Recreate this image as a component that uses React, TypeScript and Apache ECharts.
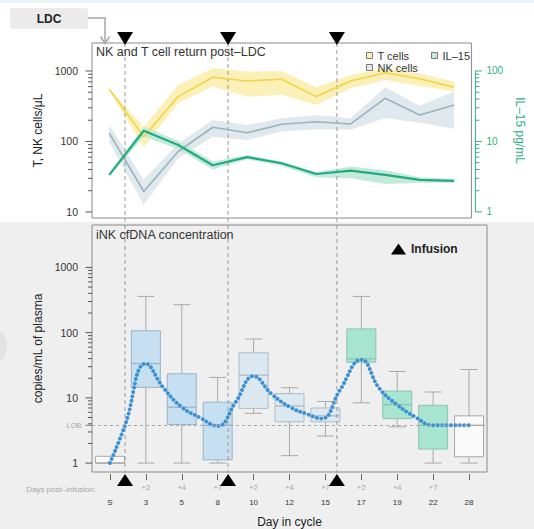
import React, { useEffect, useRef } from 'react';
import * as echarts from 'echarts';

// ---------------- data ----------------
const DAYS = ['S', '3', '5', '8', '10', '12', '15', '17', '19', '22', '28'];
const POST_INFUSION = ['', '+2', '+4', '+7', '+2', '+4', '+7', '+2', '+4', '+7', ''];

const T_CELLS = [550, 117, 433, 814, 721, 762, 433, 721, 946, 778, 587];
const T_CELLS_LO = [530, 82, 350, 600, 430, 460, 330, 570, 745, 610, 510];
const T_CELLS_HI = [570, 160, 630, 1090, 980, 1000, 590, 880, 1090, 930, 705];

const NK_CELLS = [131, 19.5, 72, 159, 133, 175, 190, 177, 410, 238, 330];
const NK_CELLS_LO = [97, 12.6, 58, 117, 105, 138, 149, 146, 215, 185, 152];
const NK_CELLS_HI = [172, 28.5, 94, 202, 171, 213, 238, 213, 590, 322, 510];

const IL15 = [3.35, 14.2, 8.9, 4.6, 6.0, 4.9, 3.45, 3.85, 3.35, 2.85, 2.76];
const IL15_LO = [3.2, 11.7, 7.8, 4.0, 5.6, 4.5, 3.1, 3.0, 2.5, 2.6, 2.6];
const IL15_HI = [3.5, 16.2, 10.2, 5.2, 6.4, 5.2, 3.7, 4.4, 3.9, 3.1, 2.9];

const BOX_MIN = [1.0, 1.0, 1.0, 1.0, 5.8, 1.3, 2.6, 8.4, 3.6, 1.0, 1.0];
const BOX_Q1 = [1.0, 14.5, 3.9, 1.12, 6.9, 4.3, 4.3, 35.2, 4.8, 1.64, 1.25];
const BOX_MED = [1.0, 33.6, 7.2, 3.8, 22.3, 7.5, 5.3, 39.7, 7.9, 3.8, 3.8];
const BOX_Q3 = [1.27, 107, 23.4, 8.6, 49, 11.6, 7.0, 114, 12.7, 7.7, 5.3];
const BOX_MAX = [1.27, 359, 268, 20.6, 80, 14.3, 8.8, 359, 25.4, 12.3, 27.2];

const CURVE_X = [0, 0.42, 1, 1.5, 2, 2.5, 3, 3.5, 4, 4.5, 5, 5.5, 5.9, 6.4, 7, 7.5, 8, 8.5, 9, 10];
const CURVE_Y = [1.0, 3.8, 33.6, 14, 7.2, 5.0, 3.7, 8.6, 21.5, 11.5, 7.3, 5.6, 4.8, 13, 38.7, 14, 7.8, 5.1, 3.8, 3.8];

const INFUSION_X = [0.42, 3.29, 6.32];
const LOB = 3.8;

// ---------------- styles / layout ----------------
const FONT = '"Liberation Sans", Arial, Helvetica, sans-serif';
const GREEN = '#2bb283';
const BOX_FILL = ['#fafafa', '#c6dff1', '#c6dff1', '#c6dff1', '#dde9f0', '#dde9f0', '#dde9f0', '#a7e5d1', '#a7e5d1', '#a7e5d1', '#fafafa'];
const BOX_EDGE = ['#a8a8a8', '#9ab4c6', '#9ab4c6', '#9ab4c6', '#a9bcc6', '#a9bcc6', '#a9bcc6', '#8cc3b1', '#8cc3b1', '#8cc3b1', '#a8a8a8'];
const BOX_W = 29;
const CAP_W = 17;

const G_LEFT = 92;
const G_WIDTH = 395;
const TOP_T = 43;
const TOP_H = 175;
const BOT_T = 225;
const BOT_H = 248;
const BOT_B = BOT_T + BOT_H;

function isDecade(v: number) {
  const l = Math.log10(v);
  return Math.abs(l - Math.round(l)) < 1e-9;
}
function decadeTicks(lo: number, hi: number) {
  const out: number[] = [];
  for (let d = lo; d < hi; d *= 10) for (let k = 1; k < 10; k++) out.push(k * d);
  out.push(hi);
  return out;
}

const tickSeries = (xi: number, yi: number, values: number[], side: 'left' | 'right', color: string) => ({
  type: 'custom',
  xAxisIndex: xi,
  yAxisIndex: yi,
  silent: true,
  clip: false,
  z: 6,
  data: values.map((v) => [0, v]),
  encode: { x: 0, y: 1 },
  renderItem: (params: any, api: any) => {
    const v = api.value(1);
    const p = api.coord([side === 'left' ? -0.5 : 10.5, v]);
    const len = isDecade(v) ? 6.5 : 4;
    const x0 = side === 'left' ? p[0] : p[0] + 4;
    const x1 = side === 'left' ? x0 - len : x0 + len;
    return { type: 'line', shape: { x1: x0, y1: p[1], x2: x1, y2: p[1] }, style: { stroke: color, lineWidth: 1 } };
  },
});

const bandSeries = (name: string, lo: number[], hi: number[], color: string, yi: number) => ({
  type: 'custom',
  name,
  xAxisIndex: 0,
  yAxisIndex: yi,
  silent: true,
  z: 1,
  data: [[0, lo[0]]],
  encode: { x: 0, y: 1 },
  renderItem: (params: any, api: any) => {
    const pts: number[][] = [];
    for (let i = 0; i < hi.length; i++) pts.push(api.coord([i, hi[i]]));
    for (let i = lo.length - 1; i >= 0; i--) pts.push(api.coord([i, lo[i]]));
    return { type: 'polygon', shape: { points: pts }, style: { fill: color } };
  },
});

const lineSeries = (name: string, values: number[], color: string, width: number, yi: number) => ({
  type: 'line',
  name,
  xAxisIndex: 0,
  yAxisIndex: yi,
  silent: true,
  z: 3,
  symbol: 'none',
  data: values.map((v, i) => [i, v]),
  lineStyle: { color, width },
});

const legendItem = (name: string, left: number, top: number, fill: string) => ({
  left,
  top,
  padding: 0,
  selectedMode: false,
  itemWidth: 6,
  itemHeight: 6,
  textStyle: { fontSize: 11, color: '#333', fontFamily: FONT },
  data: [{ name, icon: 'rect', itemStyle: { color: fill, borderColor: '#7a7a7a', borderWidth: 1 } }],
});

function buildOption(): any {
  return {
    animation: false,
    textStyle: { fontFamily: FONT },
    title: [
      { text: 'NK and T cell return post–LDC', left: 96, top: 45, padding: 0, textStyle: { fontSize: 12.5, fontWeight: 'normal', color: '#333', fontFamily: FONT } },
      { text: 'iNK cfDNA concentration', left: 96, top: 228, padding: 0, textStyle: { fontSize: 12.5, fontWeight: 'normal', color: '#333', fontFamily: FONT } },
    ],
    legend: [
      legendItem('T cells', 366, 50, '#fbf0b5'),
      legendItem('NK cells', 366, 62, '#e2eaef'),
      legendItem('IL–15', 431, 50, '#c3eadb'),
      {
        left: 391,
        top: 243,
        padding: 0,
        selectedMode: false,
        itemWidth: 15,
        itemHeight: 11,
        textStyle: { fontSize: 12, fontWeight: 'bold', color: '#222', fontFamily: FONT },
        data: [{ name: 'Infusion', icon: 'triangle', itemStyle: { color: '#000' } }],
      },
    ],
    grid: [
      { left: G_LEFT, top: TOP_T, width: G_WIDTH, height: TOP_H, show: true, borderColor: '#8a8a8a', borderWidth: 1, backgroundColor: 'transparent' },
      { left: G_LEFT, top: BOT_T, width: G_WIDTH, height: BOT_H, show: true, borderColor: '#8a8a8a', borderWidth: 1, backgroundColor: 'transparent' },
    ],
    xAxis: [
      { type: 'value', gridIndex: 0, min: -0.5, max: 10.5, show: false },
      {
        type: 'category',
        gridIndex: 1,
        data: DAYS,
        position: 'bottom',
        offset: 2,
        boundaryGap: true,
        axisLine: { show: false },
        axisTick: { show: true, alignWithLabel: true, length: 6, lineStyle: { color: '#666' } },
        axisLabel: {
          interval: 0,
          margin: 6,
          formatter: (val: string, idx: number) => `{p|${POST_INFUSION[idx] || ' '}}\n{d|${val}}`,
          rich: {
            p: { fontSize: 7.5, color: '#a5a5a5', lineHeight: 15, fontFamily: FONT },
            d: { fontSize: 8, color: '#333', lineHeight: 15, fontFamily: FONT },
          },
        },
        name: 'Day in cycle',
        nameLocation: 'middle',
        nameGap: 42,
        nameTextStyle: { fontSize: 12, color: '#222', fontFamily: FONT },
      },
      { type: 'value', gridIndex: 1, min: -0.5, max: 10.5, show: false },
    ],
    yAxis: [
      {
        type: 'log',
        logBase: 10,
        gridIndex: 0,
        min: 8.2,
        max: 2495,
        axisLine: { show: false },
        axisTick: { show: false },
        splitLine: { show: false },
        axisLabel: { margin: 14, fontSize: 10.5, color: '#333', showMinLabel: false, showMaxLabel: false, formatter: (v: number) => String(Math.round(v)) },
        name: 'T, NK cells/μL',
        nameLocation: 'middle',
        nameRotate: 90,
        nameGap: 44,
        nameTextStyle: { fontSize: 12, color: '#222', fontFamily: FONT },
      },
      {
        type: 'log',
        logBase: 10,
        gridIndex: 0,
        position: 'right',
        min: 0.82,
        max: 249.5,
        axisLine: { show: false },
        axisTick: { show: false },
        splitLine: { show: false },
        axisLabel: { margin: 15, fontSize: 10, color: GREEN, showMinLabel: false, showMaxLabel: false, formatter: (v: number) => String(Math.round(v)) },
        name: 'IL–15 pg/mL',
        nameLocation: 'middle',
        nameRotate: -90,
        nameGap: 34,
        nameTextStyle: { fontSize: 12, color: GREEN, fontFamily: FONT },
      },
      {
        type: 'log',
        logBase: 10,
        gridIndex: 1,
        min: 0.73,
        max: 4470,
        axisLine: { show: false },
        axisTick: { show: false },
        splitLine: { show: false },
        axisLabel: { margin: 14, fontSize: 10.5, color: '#333', showMinLabel: false, showMaxLabel: false, formatter: (v: number) => String(Math.round(v)) },
        name: 'copies/mL of plasma',
        nameLocation: 'middle',
        nameRotate: 90,
        nameGap: 44,
        nameTextStyle: { fontSize: 12, color: '#222', fontFamily: FONT },
      },
    ],
    series: [
      bandSeries('T cells', T_CELLS_LO, T_CELLS_HI, '#fbf0b8', 0),
      bandSeries('NK cells', NK_CELLS_LO, NK_CELLS_HI, '#e0e9ee', 0),
      bandSeries('IL–15', IL15_LO, IL15_HI, '#c3eadb', 1),
      lineSeries('T cells', T_CELLS, '#efd548', 1.6, 0),
      lineSeries('NK cells', NK_CELLS, '#9cb2bd', 1.6, 0),
      lineSeries('IL–15', IL15, '#20ad7b', 2.2, 1),
      tickSeries(0, 0, decadeTicks(10, 1000), 'left', '#555'),
      tickSeries(0, 1, decadeTicks(1, 100), 'right', GREEN),
      tickSeries(2, 2, decadeTicks(1, 1000), 'left', '#555'),
      {
        type: 'custom',
        xAxisIndex: 0,
        yAxisIndex: 1,
        silent: true,
        clip: false,
        z: 6,
        data: [[10.5, 1]],
        encode: { x: 0, y: 1 },
        renderItem: (params: any, api: any) => {
          const a = api.coord([10.5, 1]);
          const b = api.coord([10.5, 100]);
          return { type: 'line', shape: { x1: a[0] + 4, y1: a[1], x2: b[0] + 4, y2: b[1] }, style: { stroke: GREEN, lineWidth: 1 } };
        },
      },
      {
        type: 'custom',
        xAxisIndex: 2,
        yAxisIndex: 2,
        silent: true,
        clip: false,
        z: 6,
        data: [[-0.5, LOB]],
        encode: { x: 0, y: 1 },
        renderItem: (params: any, api: any) => {
          const p = api.coord([-0.5, api.value(1)]);
          return {
            type: 'group',
            children: [
              { type: 'line', shape: { x1: p[0] - 6.5, y1: p[1], x2: p[0], y2: p[1] }, style: { stroke: '#777', lineWidth: 1 } },
              {
                type: 'text',
                x: p[0] - 10.5,
                y: p[1],
                style: { text: 'LOB', fill: '#a5a5a5', fontSize: 7.5, fontFamily: FONT, align: 'right', verticalAlign: 'middle', textAlign: 'right', textVerticalAlign: 'middle' },
              },
            ],
          };
        },
      },
      {
        type: 'custom',
        name: 'boxes',
        xAxisIndex: 2,
        yAxisIndex: 2,
        silent: true,
        z: 2,
        data: DAYS.map((_, i) => [i, BOX_MIN[i], BOX_Q1[i], BOX_MED[i], BOX_Q3[i], BOX_MAX[i]]),
        encode: { x: 0, y: [1, 2, 3, 4, 5] },
        renderItem: (params: any, api: any) => {
          const i = params.dataIndex;
          const xv = api.value(0);
          const mn = api.value(1);
          const q1 = api.value(2);
          const md = api.value(3);
          const q3 = api.value(4);
          const mx = api.value(5);
          const pMin = api.coord([xv, mn]);
          const x = pMin[0];
          const yMin = pMin[1];
          const yQ1 = api.coord([xv, q1])[1];
          const yMed = api.coord([xv, md])[1];
          const yQ3 = api.coord([xv, q3])[1];
          const yMax = api.coord([xv, mx])[1];
          const ws = { stroke: '#a9a9a9', lineWidth: 1 };
          const children: any[] = [];
          if (mx > q3) {
            children.push({ type: 'line', shape: { x1: x, y1: yMax, x2: x, y2: yQ3 }, style: ws });
            children.push({ type: 'line', shape: { x1: x - CAP_W / 2, y1: yMax, x2: x + CAP_W / 2, y2: yMax }, style: ws });
          }
          if (mn < q1) {
            children.push({ type: 'line', shape: { x1: x, y1: yQ1, x2: x, y2: yMin }, style: ws });
            children.push({ type: 'line', shape: { x1: x - CAP_W / 2, y1: yMin, x2: x + CAP_W / 2, y2: yMin }, style: ws });
          }
          children.push({
            type: 'rect',
            shape: { x: x - BOX_W / 2, y: yQ3, width: BOX_W, height: yQ1 - yQ3 },
            style: { fill: BOX_FILL[i], stroke: BOX_EDGE[i], lineWidth: 1 },
          });
          children.push({
            type: 'line',
            shape: { x1: x - BOX_W / 2, y1: yMed, x2: x + BOX_W / 2, y2: yMed },
            style: { stroke: BOX_EDGE[i], lineWidth: 1.3 },
          });
          return { type: 'group', children };
        },
      },
      {
        type: 'custom',
        name: 'Infusion',
        xAxisIndex: 2,
        yAxisIndex: 2,
        silent: true,
        clip: false,
        z: 3,
        data: INFUSION_X.map((x) => [x, 1]),
        encode: { x: 0, y: 1 },
        renderItem: (params: any, api: any) => {
          const p = api.coord([api.value(0), 1]);
          const x = p[0];
          return {
            type: 'group',
            children: [
              { type: 'line', shape: { x1: x, y1: TOP_T, x2: x, y2: BOT_B }, style: { stroke: '#9a9a9a', lineWidth: 1, lineDash: [4, 3] } },
              { type: 'polygon', shape: { points: [[x - 8, TOP_T - 11], [x + 8, TOP_T - 11], [x, TOP_T + 2]] }, style: { fill: '#000' } },
              { type: 'polygon', shape: { points: [[x - 8, BOT_B + 13], [x + 8, BOT_B + 13], [x, BOT_B + 1]] }, style: { fill: '#000' } },
            ],
          };
        },
      },
      {
        type: 'line',
        name: 'cfDNA',
        xAxisIndex: 2,
        yAxisIndex: 2,
        silent: true,
        z: 4,
        smooth: 0.45,
        symbol: 'none',
        data: CURVE_X.map((x, i) => [x, CURVE_Y[i]]),
        lineStyle: { color: '#3a8fd5', width: 3.8, type: [0.1, 4.3], cap: 'round' },
        markLine: {
          silent: true,
          symbol: ['none', 'none'],
          label: { show: false },
          lineStyle: { type: [3, 3], color: '#a8a8a8', width: 1 },
          data: [{ yAxis: LOB }],
        },
      },
    ],
    graphic: [
      { type: 'ellipse', z: -1, shape: { cx: -4, cy: 346, rx: 11, ry: 17 }, style: { fill: '#e3e3e3' } },
      { type: 'rect', shape: { x: 10, y: 8, width: 78, height: 21, r: 3 }, style: { fill: '#ebebeb' } },
      {
        type: 'text',
        x: 49,
        y: 19,
        style: { text: 'LDC', fill: '#222', fontSize: 12, fontWeight: 'bold', fontFamily: FONT, align: 'center', verticalAlign: 'middle', textAlign: 'center', textVerticalAlign: 'middle' },
      },
      { type: 'polyline', shape: { points: [[88, 18], [105, 18], [105, 43]] }, style: { stroke: '#a8a8a8', lineWidth: 1.5 } },
      { type: 'polyline', shape: { points: [[100.5, 36.5], [105, 43.5], [109.5, 36.5]] }, style: { stroke: '#a8a8a8', lineWidth: 1.5 } },
      {
        type: 'text',
        x: 96,
        y: 489,
        style: { text: 'Days post–infusion:', fill: '#a5a5a5', fontSize: 8, fontFamily: FONT, align: 'right', verticalAlign: 'middle', textAlign: 'right', textVerticalAlign: 'middle' },
      },
    ],
  };
}

export default function App() {
  const ref = useRef<HTMLDivElement>(null);
  useEffect(() => {
    if (!ref.current) return;
    const chart = echarts.init(ref.current, undefined, { renderer: 'svg' });
    chart.setOption(buildOption());
    return () => chart.dispose();
  }, []);
  return (
    <div
      ref={ref}
      style={{
        position: 'absolute',
        left: 0,
        top: 0,
        width: 534,
        height: 529,
        background: 'linear-gradient(to bottom, #e9f7fa 0px, #e9f7fa 3px, #ffffff 3px, #ffffff 222px, #efefef 222px, #efefef 529px)',
      }}
    />
  );
}
